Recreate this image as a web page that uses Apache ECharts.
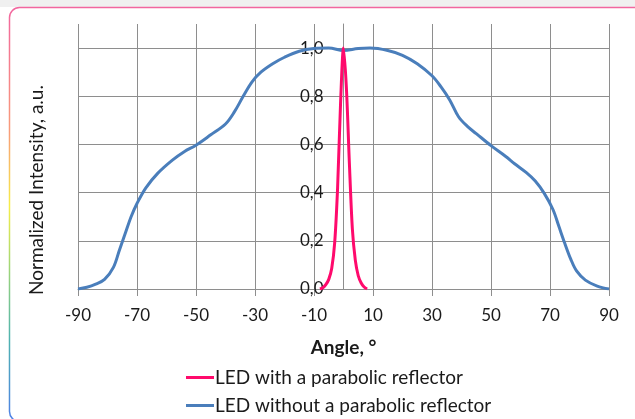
<!DOCTYPE html>
<html>
<head>
<meta charset="utf-8">
<script src="https://cdn.jsdelivr.net/npm/echarts@6/dist/echarts.min.js"></script>
<style>
html,body{margin:0;padding:0;background:#fff;}
#c{width:635px;height:419px;}
</style>
</head>
<body>
<div id="c"></div>
<script>
// ---- data ----
const xTicks = [-90, -70, -50, -30, -10, 10, 30, 50, 70, 90];
const yTicks = [0, 0.2, 0.4, 0.6, 0.8, 1.0];

const blueAngles = [-90,-87,-84,-81,-78,-76,-74,-72,-70,-67,-63,-58,-54,-50,-45,-40,-37,-34,-31,-28,-24,-20,-15,-10,-5,0,5,9,15,20,25,30,33,36,39,42,45,50,55,58,62,65,68,71,73,75,77,79,82,86,90];
const blueValues = [0.0,0.007,0.02,0.04,0.09,0.16,0.23,0.30,0.355,0.42,0.48,0.535,0.57,0.597,0.64,0.685,0.735,0.80,0.86,0.90,0.935,0.962,0.987,0.998,1.0,0.99,0.998,1.0,0.99,0.97,0.935,0.885,0.84,0.785,0.715,0.675,0.645,0.595,0.55,0.52,0.483,0.448,0.398,0.33,0.26,0.19,0.125,0.075,0.037,0.012,0.0];

const pinkAngles = [-8,-7,-6,-5,-4,-3,-2,-1,0,1,2,3,4,5,6,7,8];
const pinkValues = [0.0,0.005,0.018,0.04,0.085,0.19,0.42,0.77,1.0,0.83,0.52,0.25,0.12,0.055,0.025,0.008,0.0];

const seriesNames = ['LED with a parabolic reflector', 'LED without a parabolic reflector'];
const xName = 'Angle, °';
const yName = 'Normalized Intensity, a.u.';

const zip = (a, b) => a.map((v, i) => [v, b[i]]);
const FONT = 'Lato';
const gridColor = '#8e8e8e';

const chart = echarts.init(document.getElementById('c'), null, {renderer: 'canvas'});
chart.setOption({
  animation: false,
  backgroundColor: '#fff',
  textStyle: {fontFamily: FONT},
  grid: {left: 78, right: 26, top: 24, bottom: 130, containLabel: false, outerBoundsMode: 'none'},
  graphic: [
    {type: 'rect', z: -10, silent: true, shape: {x: 0, y: 0, width: 635, height: 7}, style: {fill: '#f0f0f0'}},
    {type: 'rect', z: -9, silent: true, shape: {x: 9.5, y: 7.5, width: 700, height: 414, r: 10},
      style: {fill: '#fff', lineWidth: 1.5, stroke: new echarts.graphic.LinearGradient(0, 0, 0, 1, [
        {offset: 0, color: '#f2669f'},
        {offset: 0.3, color: '#f89c7a'},
        {offset: 0.48, color: '#f6ee48'},
        {offset: 0.63, color: '#9fd678'},
        {offset: 0.8, color: '#4fb3b0'},
        {offset: 1, color: '#4f7fe8'}
      ])}},
    {type: 'text', silent: true, x: 37, y: 190, rotation: Math.PI / 2,
      style: {text: yName, fontFamily: FONT, fontSize: 19, fill: '#1a1a1a', align: 'center', verticalAlign: 'middle'}}
  ],
  legend: {
    orient: 'vertical', left: 186, top: 368, padding: 0, itemWidth: 28, itemHeight: 3, itemGap: 9,
    icon: 'rect',
    textStyle: {fontFamily: FONT, fontSize: 19, color: '#1a1a1a', padding: [0, 0, 0, -4]},
    data: seriesNames
  },
  xAxis: {
    type: 'value', min: -90, max: 90,
    name: xName, nameLocation: 'middle', nameGap: 49,
    nameTextStyle: {fontFamily: FONT, fontSize: 19, fontWeight: 'bold', color: '#1a1a1a'},
    axisLine: {show: true, onZero: false, lineStyle: {color: gridColor, width: 1}},
    axisTick: {show: true, customValues: xTicks, length: 7, lineStyle: {color: gridColor}},
    axisLabel: {customValues: xTicks, fontFamily: FONT, fontSize: 17, color: '#1a1a1a', margin: 18, hideOverlap: false},
    splitLine: {show: true, lineStyle: {color: gridColor, width: 1}}
  },
  yAxis: {
    type: 'value', min: 0, max: 1.1, position: 'left', offset: -265.5,
    axisLine: {show: true, onZero: false, lineStyle: {color: gridColor, width: 1}},
    axisTick: {show: false, customValues: yTicks},
    axisLabel: {customValues: yTicks, fontFamily: FONT, fontSize: 17, color: '#1a1a1a', margin: 20, hideOverlap: false,
      formatter: v => v.toFixed(1).replace('.', ',')},
    splitLine: {show: true, lineStyle: {color: gridColor, width: 1}}
  },
  series: [
    {name: seriesNames[0], type: 'line', data: zip(pinkAngles, pinkValues), smooth: 0.3, symbol: 'none',
      lineStyle: {color: '#ff0a6c', width: 3}, itemStyle: {color: '#ff0a6c'}, z: 3},
    {name: seriesNames[1], type: 'line', data: zip(blueAngles, blueValues), smooth: 0.35, symbol: 'none',
      lineStyle: {color: '#4a7ebb', width: 3}, itemStyle: {color: '#4a7ebb'}, z: 2}
  ]
});
</script>
</body>
</html>
